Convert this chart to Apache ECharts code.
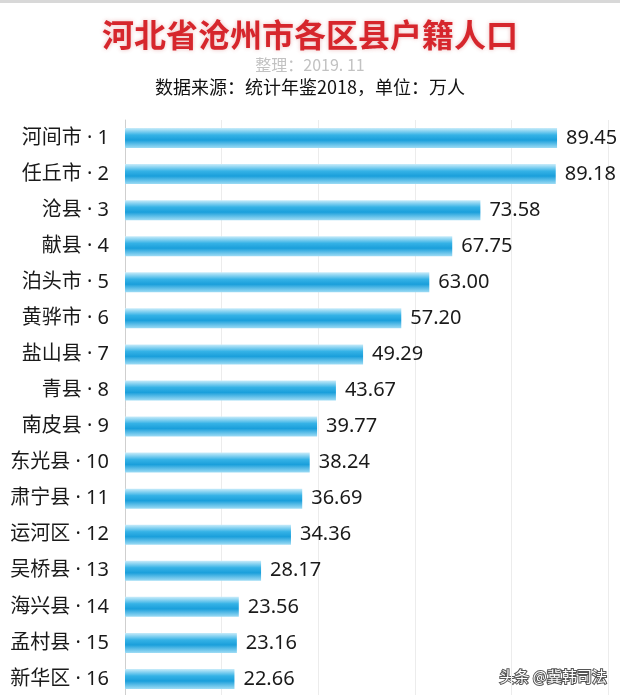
<!DOCTYPE html>
<html>
<head>
<meta charset="utf-8">
<script src="https://cdn.jsdelivr.net/npm/echarts@6/dist/echarts.min.js"></script>
<style>
html,body{margin:0;padding:0;background:#fff;}
#chart{width:620px;height:695px;}
</style>
</head>
<body>
<div id="chart"></div>
<script>
var titleText = '河北省沧州市各区县户籍人口';
var noteText = '整理：2019. 11';
var sourceText = '数据来源：统计年鉴2018，单位：万人';
var categories = ['河间市 · 1','任丘市 · 2','沧县 · 3','献县 · 4','泊头市 · 5','黄骅市 · 6','盐山县 · 7','青县 · 8','南皮县 · 9','东光县 · 10','肃宁县 · 11','运河区 · 12','吴桥县 · 13','海兴县 · 14','孟村县 · 15','新华区 · 16'];
var values = [89.45, 89.18, 73.58, 67.75, 63.00, 57.20, 49.29, 43.67, 39.77, 38.24, 36.69, 34.36, 28.17, 23.56, 23.16, 22.66];

var chart = echarts.init(document.getElementById('chart'));
var cjk = '"Noto Sans CJK SC", "Noto Sans", sans-serif';
var mixed = '"Noto Sans", "Noto Sans CJK SC", sans-serif';
var barColor = new echarts.graphic.LinearGradient(0, 0, 0, 1, [
  {offset: 0, color: '#c9ecfa'},
  {offset: 0.35, color: '#35b2e6'},
  {offset: 0.6, color: '#1a9fdb'},
  {offset: 1, color: '#9edcf5'}
]);
chart.setOption({
  backgroundColor: '#ffffff',
  animation: false,
  title: [
    {text: titleText, left: 'center', top: 14,
     textStyle: {fontFamily: cjk, fontSize: 32, fontWeight: 'bold', color: '#d6262c',
       textShadowColor: 'rgba(200,60,60,0.35)', textShadowBlur: 4}},
    {text: noteText, left: 'center', top: 52,
     textStyle: {fontFamily: cjk, fontSize: 16, fontWeight: 'normal', color: '#c2c2c2'}},
    {text: sourceText, left: 'center', top: 73,
     textStyle: {fontFamily: cjk, fontSize: 18, fontWeight: 'normal', color: '#111'}}
  ],
  graphic: [
    {type: 'rect', shape: {x: 0, y: 0, width: 620, height: 3}, style: {fill: '#d8d8d8'}},
    {type: 'text', right: 12, top: 668, style: {text: '头条 @冀韩司法', font: '15px "Noto Sans CJK SC"', fill: '#ffffff', stroke: '#555', lineWidth: 2}}
  ],
  grid: {left: 125, right: 12, top: 120, height: 577, containLabel: false, outerBoundsMode: 'none'},
  xAxis: {
    type: 'value', min: 0, max: 100, interval: 20,
    axisLabel: {show: false}, axisLine: {show: false}, axisTick: {show: false},
    splitLine: {show: true, lineStyle: {color: '#ececec', width: 1}}
  },
  yAxis: {
    type: 'category', data: categories, inverse: true,
    axisLine: {show: true, lineStyle: {color: '#cfcfcf'}},
    axisTick: {show: false},
    axisLabel: {fontFamily: mixed, fontSize: 20, color: '#1a1a1a', margin: 16}
  },
  series: [{
    type: 'bar', data: values, barWidth: 20,
    itemStyle: {color: barColor},
    label: {show: true, position: 'right', distance: 9, fontFamily: mixed, fontSize: 20, color: '#1a1a1a',
      formatter: function(p){ return p.value.toFixed(2); }}
  }]
});
</script>
</body>
</html>
